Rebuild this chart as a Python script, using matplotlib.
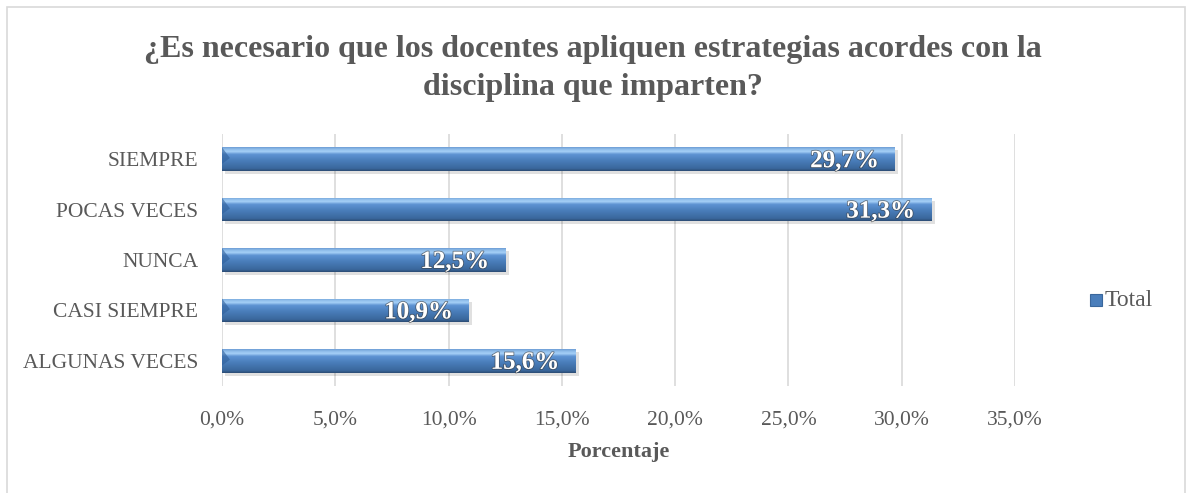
import matplotlib.pyplot as plt
import matplotlib.patheffects as pe
from matplotlib.patches import Rectangle
from matplotlib.colors import LinearSegmentedColormap
import numpy as np

categories = ["ALGUNAS VECES", "CASI SIEMPRE", "NUNCA", "POCAS VECES", "SIEMPRE"]
values = [15.6, 10.9, 12.5, 31.3, 29.7]
xticks = [0, 5, 10, 15, 20, 25, 30, 35]

plt.rcParams['font.family'] = ['Liberation Serif', 'DejaVu Serif']
grey = '#595959'

fig = plt.figure(figsize=(11.86, 4.93), dpi=100)
ax = fig.add_axes([222/1186, 1-386/493, (1015-222)/1186, (386-134)/493])

# outer chart border
fig.patches.append(Rectangle((7/1186, -0.1), (1185-7)/1186, 1.1-7/493,
                             transform=fig.transFigure, fill=False,
                             edgecolor='#d9d9d9', linewidth=1.2))

y = np.arange(len(categories))
h = 0.47
bars = ax.barh(y, values, height=h, color='#4a7ebb', zorder=3)

grad = LinearSegmentedColormap.from_list('bev', [
    (0.0, '#2c4d75'), (0.10, '#3a679c'), (0.45, '#4a7ebb'),
    (0.70, '#5e93d3'), (0.82, '#a6d0f7'), (0.92, '#8dbbe9'), (1.0, '#6f9fd6')])
g = np.linspace(0, 1, 64).reshape(-1, 1)
for b in bars:
    x0, y0, w, hh = b.get_x(), b.get_y(), b.get_width(), b.get_height()
    # shadow
    ax.add_patch(Rectangle((x0 + 0.15, y0 - 0.06), w, hh, color='#000000',
                           alpha=0.12, zorder=2, linewidth=0))
    im = ax.imshow(g, extent=[x0, x0 + w, y0, y0 + hh], origin='lower',
                   cmap=grad, aspect='auto', zorder=4)
    im.set_clip_path(b)
    # left bevel triangle
    ax.add_patch(plt.Polygon([[x0, y0 + hh], [x0 + 0.35, y0 + hh * 0.55], [x0, y0 + hh * 0.3]],
                             color='#2f5f9a', alpha=0.6, zorder=5, linewidth=0))

for yi, v in zip(y, values):
    ax.text(v - 0.7, yi - 0.03, f"{v:.1f}%".replace('.', ','), ha='right', va='center',
            color='white', fontsize=18, fontweight='bold', zorder=6,
            path_effects=[pe.withStroke(linewidth=1.2, foreground='#3a3a3a', alpha=0.6)])

ax.set_xlim(0, 35)
ax.set_ylim(-0.5, 4.5)
ax.set_xticks(xticks)
ax.set_xticklabels([f"{t:.1f}%".replace('.', ',') for t in xticks])
ax.set_yticks(y)
ax.set_yticklabels(categories)
ax.tick_params(axis='both', length=0, labelsize=15.5, colors=grey)
ax.tick_params(axis='x', pad=18)
ax.tick_params(axis='y', pad=17)
ax.grid(axis='x', color='#d9d9d9', linewidth=1.2, zorder=0)
for s in ax.spines.values():
    s.set_visible(False)
ax.set_xlabel('Porcentaje', fontsize=16, fontweight='bold', color=grey, labelpad=9)

fig.text(0.5, 1 - 50/493, "¿Es necesario que los docentes apliquen estrategias acordes con la",
         ha='center', va='center', fontsize=23, fontweight='bold', color=grey)
fig.text(0.5, 1 - 87/493, "disciplina que imparten?",
         ha='center', va='center', fontsize=23, fontweight='bold', color=grey)

# legend
fig.patches.append(Rectangle((1090/1186, 1 - 306/493), 12/1186, 12/493,
                             transform=fig.transFigure, facecolor='#4a7ebb',
                             edgecolor='#3a679c', linewidth=0.8))
fig.text(1105/1186, 1 - 300/493, "Total", ha='left', va='center', fontsize=17, color=grey)

fig.savefig('out.png', dpi=100)
